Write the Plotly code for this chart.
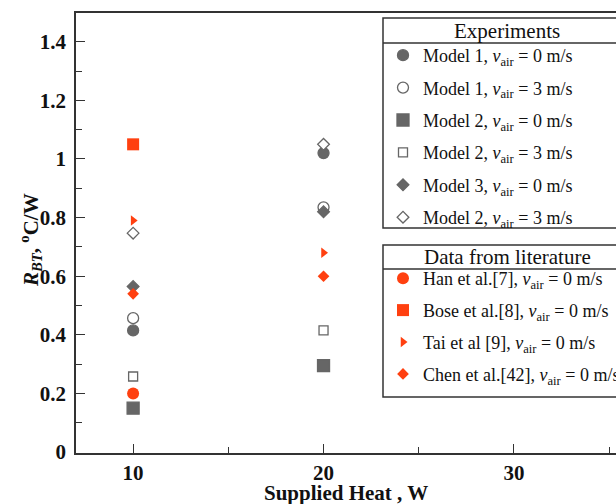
import plotly.graph_objects as go

# Supplied heat levels (W)
heat = [10, 20]

# Thermal resistance R_BT (°C/W), experiments
model1_v0 = [0.415, 1.02]
model1_v3 = [0.457, 0.835]
model2_v0 = [0.15, 0.295]
model2_v3 = [0.258, 0.415]
model3_v0 = [0.565, 0.82]
model2b_v3 = [0.747, 1.05]

# Literature values at 10 W and 20 W
han = [0.20]
han_x = [10]
bose = [1.05]
bose_x = [10]
tai = [0.79, 0.68]
chen = [0.54, 0.60]

GRAY = "#666666"
ORANGE = "#ff4010"
LINE = "#333333"
FONT = "Liberation Serif"

VAIR = "<i>v</i><sub>air</sub>"

# Figure geometry (pixels)
FIG_W, FIG_H = 616, 504
L, R, T, B = 76, 616, 13, 453
PW, PH = R - L, B - T


def px_x(px):
    return (px - L) / PW


def px_y(py):
    return (B - py) / PH


fig = go.Figure()

exp = [
    ("Model 1, " + VAIR + " = 0 m/s", model1_v0, "circle", 11, GRAY, GRAY),
    ("Model 1, " + VAIR + " = 3 m/s", model1_v3, "circle", 11, "white", GRAY),
    ("Model 2, " + VAIR + " = 0 m/s", model2_v0, "square", 12, GRAY, GRAY),
    ("Model 2, " + VAIR + " = 3 m/s", model2_v3, "square", 9, "white", GRAY),
    ("Model 3, " + VAIR + " = 0 m/s", model3_v0, "diamond", 9, GRAY, GRAY),
    ("Model 2, " + VAIR + " = 3 m/s", model2b_v3, "diamond", 9, "white", GRAY),
]
for i, (name, ys, sym, size, fill, edge) in enumerate(exp):
    fig.add_trace(go.Scatter(
        x=heat, y=ys, mode="markers", name=name,
        legend="legend", legendgroup="e%d" % i,
        marker=dict(symbol=sym, size=size, color=fill,
                    line=dict(color=edge, width=1.3)),
    ))

lit = [
    ("Han et al.[7], " + VAIR + " = 0 m/s", han_x, han, "circle", 12),
    ("Bose et al.[8], " + VAIR + " = 0 m/s", bose_x, bose, "square", 12),
    ("Tai et al [9], " + VAIR + " = 0 m/s", heat, tai, "triangle-right", 9),
    ("Chen et al.[42], " + VAIR + " = 0 m/s", heat, chen, "diamond", 9),
]
for i, (name, xs, ys, sym, size) in enumerate(lit):
    fig.add_trace(go.Scatter(
        x=xs, y=ys, mode="markers", name=name,
        legend="legend2", legendgroup="l%d" % i,
        marker=dict(symbol=sym, size=size, color=ORANGE,
                    line=dict(color=ORANGE, width=0)),
    ))

legend_common = dict(
    xanchor="left", yanchor="top",
    bgcolor="rgba(0,0,0,0)", borderwidth=0,
    font=dict(family=FONT, size=18, color="#111111"),
    traceorder="grouped",
    itemclick=False, itemdoubleclick=False,
)

# Legend frames with header rows
boxes = [
    (383, 18, 43, 228, "Experiments"),
    (383, 245, 269, 397, "Data from literature"),
]
shapes = []
annotations = []
for x0, top, sep, bot, title in boxes:
    shapes.append(dict(type="rect", xref="paper", yref="paper",
                       x0=px_x(x0), x1=px_x(640), y0=px_y(bot), y1=px_y(top),
                       line=dict(color=LINE, width=1.5), fillcolor="white",
                       layer="below"))
    shapes.append(dict(type="line", xref="paper", yref="paper",
                       x0=px_x(x0), x1=px_x(640), y0=px_y(sep), y1=px_y(sep),
                       line=dict(color=LINE, width=1.5)))
    annotations.append(dict(text=title, xref="paper", yref="paper",
                            x=px_x(507), y=px_y((top + sep) / 2),
                            xanchor="center", yanchor="middle", showarrow=False,
                            font=dict(family=FONT, size=21, color="#111111")))

# Axis titles
annotations.append(dict(
    text="<b><i>R</i><sub><i>BT</i></sub>, <sup>o</sup>C/W</b>",
    xref="paper", yref="paper", x=px_x(31), y=px_y(240),
    xanchor="center", yanchor="middle", textangle=-90, showarrow=False,
    font=dict(family=FONT, size=21, color="#111111"),
))
annotations.append(dict(
    text="<b>Supplied Heat , W</b>",
    xref="paper", yref="paper", x=0.5, y=px_y(493),
    xanchor="center", yanchor="middle", showarrow=False,
    font=dict(family=FONT, size=21, color="#111111"),
))

fig.update_layout(
    width=FIG_W, height=FIG_H,
    margin=dict(l=L, r=FIG_W - R, t=T, b=FIG_H - B, autoexpand=False),
    paper_bgcolor="white", plot_bgcolor="white",
    showlegend=True,
    legend=dict(x=px_x(383), y=px_y(37), tracegroupgap=6, **legend_common),
    legend2=dict(x=px_x(383), y=px_y(260), tracegroupgap=5.5, **legend_common),
    shapes=shapes,
    annotations=annotations,
    font=dict(family=FONT, color="#111111"),
)

fig.update_xaxes(
    range=[7, 35.36], tick0=0, dtick=10,
    showgrid=False, zeroline=False,
    showline=True, linecolor=LINE, linewidth=1.5, mirror=True,
    ticks="inside", ticklen=9, tickwidth=1.3, tickcolor=LINE,
    minor=dict(dtick=5, tick0=0, ticks="inside", ticklen=6, tickwidth=1.3, tickcolor=LINE),
    tickfont=dict(family=FONT, size=21, color="#111111", weight="bold"),
    ticklabelstandoff=0,
)
fig.update_yaxes(
    range=[-0.003, 1.498], tick0=0, dtick=0.2,
    showgrid=False, zeroline=False,
    showline=True, linecolor=LINE, linewidth=1.5, mirror=False,
    ticks="inside", ticklen=9, tickwidth=1.3, tickcolor=LINE,
    minor=dict(dtick=0.1, tick0=0, ticks="inside", ticklen=6, tickwidth=1.3, tickcolor=LINE),
    tickfont=dict(family=FONT, size=21, color="#111111", weight="bold"),
    ticklabelstandoff=4,
)

fig.write_html("out.html")
